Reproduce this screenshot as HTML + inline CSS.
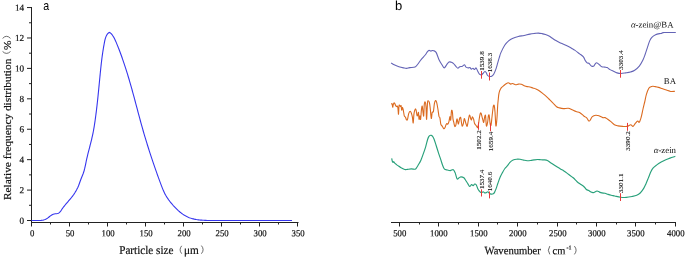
<!DOCTYPE html>
<html><head><meta charset="utf-8"><style>
html,body{margin:0;padding:0;background:#fff;}
svg{display:block;will-change:transform;}
text{font-family:"Liberation Serif",serif;fill:#111;}
.tk{font-size:9.2px;stroke:#111;stroke-width:0.2px;}
.lab{font-size:11px;stroke:#111;stroke-width:0.2px;}
.pk{font-size:7.1px;fill:#1a1a1a;stroke:#1a1a1a;stroke-width:0.12px;}
.cl{font-size:8.8px;}
.pl{font-family:"Liberation Sans",sans-serif;font-size:13px;fill:#000;}
</style></head><body>
<svg width="685" height="258" viewBox="0 0 685 258">
<line x1="31.5" y1="7" x2="31.5" y2="222.5" stroke="#222" stroke-width="1"/>
<line x1="31" y1="222.5" x2="298.5" y2="222.5" stroke="#222" stroke-width="1"/>
<line x1="27" y1="220.50" x2="31.5" y2="220.50" stroke="#222" stroke-width="1"/>
<text x="24.1" y="223.65" transform="rotate(0.05 24.1 223.65)" class="tk" text-anchor="end">0</text>
<line x1="29" y1="205.29" x2="31.5" y2="205.29" stroke="#222" stroke-width="1"/>
<line x1="27" y1="190.08" x2="31.5" y2="190.08" stroke="#222" stroke-width="1"/>
<text x="24.1" y="193.23" transform="rotate(0.05 24.1 193.23)" class="tk" text-anchor="end">2</text>
<line x1="29" y1="174.87" x2="31.5" y2="174.87" stroke="#222" stroke-width="1"/>
<line x1="27" y1="159.66" x2="31.5" y2="159.66" stroke="#222" stroke-width="1"/>
<text x="24.1" y="162.81" transform="rotate(0.05 24.1 162.81)" class="tk" text-anchor="end">4</text>
<line x1="29" y1="144.45" x2="31.5" y2="144.45" stroke="#222" stroke-width="1"/>
<line x1="27" y1="129.24" x2="31.5" y2="129.24" stroke="#222" stroke-width="1"/>
<text x="24.1" y="132.39" transform="rotate(0.05 24.1 132.39)" class="tk" text-anchor="end">6</text>
<line x1="29" y1="114.03" x2="31.5" y2="114.03" stroke="#222" stroke-width="1"/>
<line x1="27" y1="98.82" x2="31.5" y2="98.82" stroke="#222" stroke-width="1"/>
<text x="24.1" y="101.97" transform="rotate(0.05 24.1 101.97)" class="tk" text-anchor="end">8</text>
<line x1="29" y1="83.61" x2="31.5" y2="83.61" stroke="#222" stroke-width="1"/>
<line x1="27" y1="68.40" x2="31.5" y2="68.40" stroke="#222" stroke-width="1"/>
<text x="24.1" y="71.55" transform="rotate(0.05 24.1 71.55)" class="tk" text-anchor="end">10</text>
<line x1="29" y1="53.19" x2="31.5" y2="53.19" stroke="#222" stroke-width="1"/>
<line x1="27" y1="37.98" x2="31.5" y2="37.98" stroke="#222" stroke-width="1"/>
<text x="24.1" y="41.13" transform="rotate(0.05 24.1 41.13)" class="tk" text-anchor="end">12</text>
<line x1="29" y1="22.77" x2="31.5" y2="22.77" stroke="#222" stroke-width="1"/>
<line x1="27" y1="7.56" x2="31.5" y2="7.56" stroke="#222" stroke-width="1"/>
<text x="24.1" y="10.71" transform="rotate(0.05 24.1 10.71)" class="tk" text-anchor="end">14</text>
<line x1="31.50" y1="222.5" x2="31.50" y2="226.5" stroke="#222" stroke-width="1"/>
<text transform="translate(32.10,236.3) scale(0.95,1) rotate(0.05)" class="tk" text-anchor="middle">0</text>
<line x1="50.50" y1="222.5" x2="50.50" y2="224.5" stroke="#222" stroke-width="1"/>
<line x1="69.50" y1="222.5" x2="69.50" y2="226.5" stroke="#222" stroke-width="1"/>
<text transform="translate(70.10,236.3) scale(0.95,1) rotate(0.05)" class="tk" text-anchor="middle">50</text>
<line x1="88.50" y1="222.5" x2="88.50" y2="224.5" stroke="#222" stroke-width="1"/>
<line x1="107.50" y1="222.5" x2="107.50" y2="226.5" stroke="#222" stroke-width="1"/>
<text transform="translate(108.10,236.3) scale(0.95,1) rotate(0.05)" class="tk" text-anchor="middle">100</text>
<line x1="126.50" y1="222.5" x2="126.50" y2="224.5" stroke="#222" stroke-width="1"/>
<line x1="145.50" y1="222.5" x2="145.50" y2="226.5" stroke="#222" stroke-width="1"/>
<text transform="translate(146.10,236.3) scale(0.95,1) rotate(0.05)" class="tk" text-anchor="middle">150</text>
<line x1="164.50" y1="222.5" x2="164.50" y2="224.5" stroke="#222" stroke-width="1"/>
<line x1="183.50" y1="222.5" x2="183.50" y2="226.5" stroke="#222" stroke-width="1"/>
<text transform="translate(184.10,236.3) scale(0.95,1) rotate(0.05)" class="tk" text-anchor="middle">200</text>
<line x1="202.50" y1="222.5" x2="202.50" y2="224.5" stroke="#222" stroke-width="1"/>
<line x1="221.50" y1="222.5" x2="221.50" y2="226.5" stroke="#222" stroke-width="1"/>
<text transform="translate(222.10,236.3) scale(0.95,1) rotate(0.05)" class="tk" text-anchor="middle">250</text>
<line x1="240.50" y1="222.5" x2="240.50" y2="224.5" stroke="#222" stroke-width="1"/>
<line x1="259.50" y1="222.5" x2="259.50" y2="226.5" stroke="#222" stroke-width="1"/>
<text transform="translate(260.10,236.3) scale(0.95,1) rotate(0.05)" class="tk" text-anchor="middle">300</text>
<line x1="278.50" y1="222.5" x2="278.50" y2="224.5" stroke="#222" stroke-width="1"/>
<line x1="297.50" y1="222.5" x2="297.50" y2="226.5" stroke="#222" stroke-width="1"/>
<text transform="translate(298.10,236.3) scale(0.95,1) rotate(0.05)" class="tk" text-anchor="middle">350</text>
<path d="M31.52,220.51 L32.54,220.47 L33.59,220.46 L34.65,220.48 L35.72,220.50 L36.80,220.53 L37.88,220.54 L38.96,220.54 L40.04,220.50 L41.10,220.42 L42.15,220.29 L43.17,220.10 L44.18,219.84 L45.15,219.49 L46.09,219.05 L47.00,218.51 L47.87,217.89 L48.73,217.22 L49.59,216.53 L50.45,215.87 L51.33,215.26 L52.24,214.72 L53.20,214.31 L54.21,214.02 L55.26,213.82 L56.35,213.68 L57.44,213.51 L58.45,213.20 L59.31,212.68 L60.04,211.96 L60.68,211.12 L61.29,210.21 L61.89,209.29 L62.51,208.40 L63.15,207.52 L63.80,206.67 L64.46,205.83 L65.13,205.00 L65.81,204.18 L66.49,203.37 L67.18,202.57 L67.87,201.77 L68.56,200.97 L69.25,200.17 L69.94,199.37 L70.61,198.56 L71.28,197.74 L71.94,196.92 L72.58,196.07 L73.21,195.22 L73.83,194.35 L74.42,193.46 L75.00,192.57 L75.56,191.66 L76.10,190.73 L76.62,189.80 L77.11,188.85 L77.58,187.90 L78.02,186.93 L78.44,185.96 L78.83,184.97 L79.20,183.98 L79.55,182.98 L79.91,181.98 L80.26,180.99 L80.63,179.99 L81.01,178.99 L81.40,178.01 L81.81,177.02 L82.22,176.03 L82.62,175.04 L83.01,174.05 L83.37,173.05 L83.71,172.05 L84.02,171.04 L84.30,170.02 L84.57,168.99 L84.81,167.96 L85.05,166.93 L85.27,165.90 L85.49,164.86 L85.70,163.82 L85.91,162.78 L86.12,161.74 L86.34,160.70 L86.56,159.66 L86.79,158.62 L87.03,157.58 L87.28,156.55 L87.52,155.52 L87.78,154.48 L88.03,153.45 L88.29,152.42 L88.56,151.39 L88.82,150.36 L89.09,149.33 L89.35,148.30 L89.62,147.27 L89.89,146.24 L90.15,145.21 L90.42,144.18 L90.68,143.15 L90.94,142.12 L91.20,141.08 L91.45,140.05 L91.70,139.02 L91.94,137.99 L92.18,136.95 L92.41,135.92 L92.63,134.88 L92.85,133.84 L93.06,132.81 L93.26,131.77 L93.46,130.73 L93.65,129.68 L93.83,128.64 L94.01,127.60 L94.18,126.55 L94.35,125.51 L94.52,124.46 L94.68,123.41 L94.83,122.36 L94.99,121.31 L95.14,120.26 L95.28,119.21 L95.43,118.16 L95.57,117.11 L95.71,116.05 L95.85,115.00 L95.99,113.94 L96.12,112.89 L96.26,111.83 L96.39,110.77 L96.51,109.72 L96.64,108.66 L96.76,107.60 L96.89,106.54 L97.01,105.48 L97.13,104.42 L97.25,103.36 L97.36,102.31 L97.48,101.25 L97.59,100.19 L97.71,99.13 L97.82,98.07 L97.93,97.01 L98.04,95.95 L98.14,94.89 L98.25,93.83 L98.36,92.77 L98.46,91.71 L98.57,90.65 L98.67,89.59 L98.78,88.53 L98.88,87.47 L98.98,86.42 L99.09,85.36 L99.19,84.30 L99.29,83.25 L99.39,82.19 L99.49,81.14 L99.60,80.08 L99.70,79.03 L99.80,77.98 L99.90,76.93 L100.00,75.88 L100.11,74.83 L100.21,73.78 L100.31,72.73 L100.42,71.68 L100.52,70.63 L100.63,69.59 L100.74,68.54 L100.85,67.49 L100.96,66.44 L101.08,65.40 L101.19,64.35 L101.31,63.30 L101.43,62.25 L101.56,61.20 L101.69,60.15 L101.82,59.10 L101.95,58.05 L102.09,57.00 L102.23,55.94 L102.38,54.88 L102.53,53.83 L102.68,52.77 L102.84,51.71 L103.01,50.64 L103.18,49.58 L103.35,48.51 L103.53,47.45 L103.71,46.37 L103.90,45.30 L104.10,44.23 L104.30,43.15 L104.51,42.07 L104.73,40.98 L104.97,39.91 L105.23,38.86 L105.54,37.83 L105.89,36.84 L106.30,35.89 L106.78,35.00 L107.34,34.17 L107.99,33.41 L108.73,32.74 L109.54,32.43 L110.35,32.84 L111.12,33.61 L111.83,34.43 L112.49,35.29 L113.09,36.18 L113.65,37.09 L114.18,38.02 L114.67,38.97 L115.13,39.93 L115.57,40.90 L115.99,41.88 L116.41,42.87 L116.81,43.86 L117.21,44.85 L117.61,45.84 L118.01,46.83 L118.40,47.83 L118.79,48.82 L119.17,49.81 L119.55,50.81 L119.93,51.81 L120.30,52.80 L120.67,53.80 L121.03,54.80 L121.40,55.80 L121.76,56.80 L122.11,57.80 L122.47,58.81 L122.82,59.81 L123.16,60.81 L123.51,61.82 L123.85,62.82 L124.19,63.83 L124.52,64.84 L124.85,65.85 L125.18,66.85 L125.51,67.86 L125.84,68.87 L126.16,69.89 L126.48,70.90 L126.80,71.91 L127.11,72.92 L127.43,73.94 L127.74,74.95 L128.04,75.97 L128.35,76.98 L128.66,78.00 L128.96,79.01 L129.26,80.03 L129.56,81.05 L129.85,82.07 L130.15,83.09 L130.44,84.11 L130.73,85.13 L131.02,86.15 L131.31,87.17 L131.60,88.19 L131.89,89.21 L132.17,90.23 L132.45,91.26 L132.73,92.28 L133.02,93.30 L133.29,94.33 L133.57,95.35 L133.85,96.38 L134.13,97.40 L134.40,98.43 L134.68,99.46 L134.96,100.48 L135.23,101.51 L135.50,102.53 L135.78,103.56 L136.05,104.59 L136.32,105.62 L136.60,106.64 L136.87,107.67 L137.14,108.70 L137.42,109.72 L137.69,110.75 L137.96,111.78 L138.24,112.80 L138.51,113.83 L138.79,114.86 L139.06,115.88 L139.34,116.91 L139.61,117.94 L139.89,118.96 L140.17,119.99 L140.45,121.01 L140.73,122.04 L141.01,123.06 L141.29,124.09 L141.58,125.11 L141.86,126.14 L142.15,127.16 L142.44,128.18 L142.73,129.20 L143.02,130.23 L143.31,131.25 L143.61,132.27 L143.90,133.29 L144.20,134.31 L144.50,135.33 L144.80,136.35 L145.11,137.36 L145.41,138.38 L145.72,139.40 L146.02,140.41 L146.33,141.43 L146.65,142.45 L146.96,143.46 L147.27,144.48 L147.59,145.49 L147.91,146.50 L148.22,147.52 L148.54,148.53 L148.87,149.54 L149.19,150.55 L149.52,151.56 L149.84,152.57 L150.17,153.58 L150.50,154.59 L150.83,155.60 L151.16,156.61 L151.49,157.62 L151.83,158.63 L152.17,159.63 L152.50,160.64 L152.84,161.65 L153.18,162.65 L153.52,163.66 L153.87,164.66 L154.21,165.67 L154.56,166.67 L154.90,167.67 L155.25,168.68 L155.60,169.68 L155.95,170.68 L156.31,171.68 L156.66,172.68 L157.01,173.69 L157.37,174.69 L157.73,175.69 L158.08,176.68 L158.45,177.68 L158.81,178.68 L159.17,179.68 L159.54,180.68 L159.91,181.67 L160.28,182.67 L160.65,183.67 L161.03,184.66 L161.41,185.66 L161.79,186.65 L162.17,187.64 L162.57,188.63 L162.97,189.61 L163.39,190.59 L163.82,191.56 L164.27,192.52 L164.74,193.47 L165.23,194.41 L165.74,195.34 L166.28,196.25 L166.83,197.15 L167.41,198.04 L168.01,198.92 L168.62,199.79 L169.25,200.64 L169.90,201.49 L170.56,202.32 L171.24,203.15 L171.93,203.96 L172.63,204.76 L173.34,205.56 L174.07,206.34 L174.80,207.11 L175.54,207.88 L176.28,208.63 L177.04,209.38 L177.81,210.11 L178.59,210.83 L179.38,211.52 L180.19,212.21 L181.02,212.87 L181.86,213.51 L182.73,214.13 L183.61,214.72 L184.51,215.29 L185.42,215.83 L186.35,216.34 L187.30,216.81 L188.27,217.25 L189.25,217.65 L190.25,218.01 L191.26,218.34 L192.28,218.64 L193.31,218.90 L194.35,219.14 L195.40,219.35 L196.45,219.54 L197.50,219.70 L198.56,219.84 L199.61,219.97 L200.67,220.08 L201.73,220.17 L202.78,220.24 L203.84,220.31 L204.90,220.36 L205.96,220.40 L207.02,220.43 L208.08,220.46 L209.15,220.48 L210.21,220.49 L211.27,220.50 L212.33,220.51 L213.39,220.51 L214.45,220.52 L215.52,220.52 L216.58,220.53 L217.64,220.53 L218.70,220.53 L219.77,220.53 L220.83,220.53 L221.89,220.53 L222.95,220.53 L224.02,220.53 L225.08,220.53 L226.14,220.52 L227.20,220.52 L228.26,220.52 L229.33,220.52 L230.39,220.51 L231.45,220.51 L232.51,220.51 L233.58,220.50 L234.64,220.50 L235.70,220.50 L236.76,220.50 L237.83,220.49 L238.89,220.49 L239.95,220.49 L241.01,220.49 L242.08,220.49 L243.14,220.49 L244.20,220.49 L245.26,220.49 L246.33,220.49 L247.39,220.49 L248.45,220.49 L249.51,220.49 L250.57,220.49 L251.64,220.49 L252.70,220.49 L253.76,220.49 L254.82,220.49 L255.89,220.49 L256.95,220.49 L258.01,220.49 L259.07,220.49 L260.13,220.49 L261.20,220.50 L262.26,220.50 L263.32,220.50 L264.38,220.50 L265.44,220.50 L266.51,220.50 L267.57,220.50 L268.63,220.50 L269.69,220.50 L270.75,220.51 L271.82,220.51 L272.88,220.51 L273.94,220.51 L275.00,220.51 L276.07,220.51 L277.13,220.51 L278.19,220.51 L279.25,220.51 L280.31,220.51 L281.38,220.51 L282.44,220.51 L283.50,220.51 L284.56,220.51 L285.63,220.51 L286.69,220.51 L287.75,220.50 L288.81,220.50 L289.88,220.50 L290.94,220.50 L292.00,220.50" fill="none" stroke="#3535ee" stroke-width="1.1"/>
<text transform="translate(119.18,253.9) scale(0.94,1) rotate(0.05)" class="lab" style="font-size:11.9px">Particle size</text>
<path d="M181.7,245.8 Q178.50,249.75 181.7,253.7" fill="none" stroke="#3a3a3a" stroke-width="0.75"/>
<text transform="translate(183.9,253.9) scale(0.94,1) rotate(0.05)" class="lab" style="font-size:12px">μm</text>
<path d="M201.4,245.6 Q204.80,249.65 201.4,253.7" fill="none" stroke="#3a3a3a" stroke-width="0.75"/>
<text transform="translate(10.9,200.0) rotate(-90)" class="lab" style="font-size:11.37px">Relative frequency distribution</text>
<path d="M2.6,51.5 Q6.55,55.30 10.5,51.5" fill="none" stroke="#3a3a3a" stroke-width="0.75"/>
<text transform="translate(10.75,50.0) rotate(-90)" class="lab" style="font-size:11.37px">%</text>
<path d="M2.6,38.4 Q6.55,34.20 10.5,38.4" fill="none" stroke="#3a3a3a" stroke-width="0.75"/>
<text transform="translate(43.35,10.1) scale(0.82,1)" class="pl">a</text>
<line x1="391" y1="222.5" x2="676" y2="222.5" stroke="#222" stroke-width="1"/>
<line x1="399.50" y1="222.5" x2="399.50" y2="226.5" stroke="#222" stroke-width="1"/>
<text transform="translate(399.80,236.3) scale(0.95,1) rotate(0.05)" class="tk" text-anchor="middle">500</text>
<line x1="419.50" y1="222.5" x2="419.50" y2="224.5" stroke="#222" stroke-width="1"/>
<line x1="438.50" y1="222.5" x2="438.50" y2="226.5" stroke="#222" stroke-width="1"/>
<text transform="translate(438.80,236.3) scale(0.95,1) rotate(0.05)" class="tk" text-anchor="middle">1000</text>
<line x1="458.50" y1="222.5" x2="458.50" y2="224.5" stroke="#222" stroke-width="1"/>
<line x1="478.50" y1="222.5" x2="478.50" y2="226.5" stroke="#222" stroke-width="1"/>
<text transform="translate(478.80,236.3) scale(0.95,1) rotate(0.05)" class="tk" text-anchor="middle">1500</text>
<line x1="497.50" y1="222.5" x2="497.50" y2="224.5" stroke="#222" stroke-width="1"/>
<line x1="517.50" y1="222.5" x2="517.50" y2="226.5" stroke="#222" stroke-width="1"/>
<text transform="translate(517.80,236.3) scale(0.95,1) rotate(0.05)" class="tk" text-anchor="middle">2000</text>
<line x1="537.50" y1="222.5" x2="537.50" y2="224.5" stroke="#222" stroke-width="1"/>
<line x1="557.50" y1="222.5" x2="557.50" y2="226.5" stroke="#222" stroke-width="1"/>
<text transform="translate(557.80,236.3) scale(0.95,1) rotate(0.05)" class="tk" text-anchor="middle">2500</text>
<line x1="576.50" y1="222.5" x2="576.50" y2="224.5" stroke="#222" stroke-width="1"/>
<line x1="596.50" y1="222.5" x2="596.50" y2="226.5" stroke="#222" stroke-width="1"/>
<text transform="translate(596.80,236.3) scale(0.95,1) rotate(0.05)" class="tk" text-anchor="middle">3000</text>
<line x1="616.50" y1="222.5" x2="616.50" y2="224.5" stroke="#222" stroke-width="1"/>
<line x1="635.50" y1="222.5" x2="635.50" y2="226.5" stroke="#222" stroke-width="1"/>
<text transform="translate(635.80,236.3) scale(0.95,1) rotate(0.05)" class="tk" text-anchor="middle">3500</text>
<line x1="655.50" y1="222.5" x2="655.50" y2="224.5" stroke="#222" stroke-width="1"/>
<line x1="675.50" y1="222.5" x2="675.50" y2="226.5" stroke="#222" stroke-width="1"/>
<text transform="translate(675.80,236.3) scale(0.95,1) rotate(0.05)" class="tk" text-anchor="middle">4000</text>
<path d="M391.10,62.90 C391.62,63.22 392.90,64.17 394.20,64.80 C395.50,65.43 397.35,66.18 398.90,66.70 C400.45,67.22 402.22,67.62 403.50,67.90 C404.78,68.18 405.57,68.45 406.60,68.40 C407.63,68.35 408.28,67.82 409.70,67.60 C411.12,67.38 413.80,67.62 415.10,67.10 C416.40,66.58 416.47,65.78 417.50,64.50 C418.53,63.22 420.02,60.98 421.30,59.40 C422.58,57.82 424.17,56.30 425.20,55.00 C426.23,53.70 426.85,52.37 427.50,51.60 C428.15,50.83 428.53,50.48 429.10,50.40 C429.67,50.32 430.38,51.07 430.90,51.10 C431.42,51.13 431.73,50.67 432.20,50.60 C432.67,50.53 433.05,50.40 433.70,50.70 C434.35,51.00 435.23,50.95 436.10,52.40 C436.97,53.85 437.92,57.33 438.90,59.40 C439.88,61.47 441.10,63.38 442.00,64.80 C442.90,66.22 443.53,67.90 444.30,67.90 C445.07,67.90 445.82,65.78 446.60,64.80 C447.38,63.82 448.22,62.43 449.00,62.00 C449.78,61.57 450.53,61.93 451.30,62.20 C452.07,62.47 452.83,62.90 453.60,63.60 C454.37,64.30 455.18,65.63 455.90,66.40 C456.62,67.17 457.25,68.15 457.90,68.20 C458.55,68.25 459.10,67.00 459.80,66.70 C460.50,66.40 461.32,66.72 462.10,66.40 C462.88,66.08 463.85,64.68 464.50,64.80 C465.15,64.92 465.37,66.58 466.00,67.10 C466.63,67.62 467.65,67.82 468.30,67.90 C468.95,67.98 469.38,67.40 469.90,67.60 C470.42,67.80 470.88,69.00 471.40,69.10 C471.92,69.20 472.48,68.13 473.00,68.20 C473.52,68.27 473.98,69.55 474.50,69.50 C475.02,69.45 475.58,67.65 476.10,67.90 C476.62,68.15 477.08,70.02 477.60,71.00 C478.12,71.98 478.55,73.15 479.20,73.80 C479.85,74.45 480.88,74.95 481.50,74.90 C482.12,74.85 482.33,74.07 482.90,73.50 C483.47,72.93 484.33,71.62 484.90,71.50 C485.47,71.38 485.85,72.13 486.30,72.80 C486.75,73.47 487.03,74.88 487.60,75.50 C488.17,76.12 489.02,76.38 489.70,76.50 C490.38,76.62 491.03,76.58 491.70,76.20 C492.37,75.82 493.02,75.33 493.70,74.20 C494.38,73.07 495.12,71.33 495.80,69.40 C496.48,67.47 497.23,64.52 497.80,62.60 C498.37,60.68 498.70,59.52 499.20,57.90 C499.70,56.28 499.88,55.02 500.80,52.90 C501.72,50.78 503.40,47.20 504.70,45.20 C506.00,43.20 507.32,42.03 508.60,40.90 C509.88,39.77 510.78,39.13 512.40,38.40 C514.02,37.67 516.35,36.98 518.30,36.50 C520.25,36.02 522.17,35.90 524.10,35.50 C526.03,35.10 528.08,34.45 529.90,34.10 C531.72,33.75 533.57,33.57 535.00,33.40 C536.43,33.23 537.33,33.07 538.50,33.10 C539.67,33.13 540.83,33.37 542.00,33.60 C543.17,33.83 544.33,34.10 545.50,34.50 C546.67,34.90 547.85,35.37 549.00,36.00 C550.15,36.63 551.25,37.53 552.40,38.30 C553.55,39.07 554.73,39.92 555.90,40.60 C557.07,41.28 558.23,41.83 559.40,42.40 C560.57,42.97 561.73,43.47 562.90,44.00 C564.07,44.53 565.23,45.05 566.40,45.60 C567.57,46.15 568.88,46.77 569.90,47.30 C570.92,47.83 571.70,48.33 572.50,48.80 C573.30,49.27 573.57,49.30 574.70,50.10 C575.83,50.90 577.88,52.50 579.30,53.60 C580.72,54.70 582.17,55.48 583.20,56.70 C584.23,57.92 584.85,59.87 585.50,60.90 C586.15,61.93 586.53,62.50 587.10,62.90 C587.67,63.30 588.27,62.85 588.90,63.30 C589.53,63.75 590.30,65.08 590.90,65.60 C591.50,66.12 591.98,66.35 592.50,66.40 C593.02,66.45 593.48,66.42 594.00,65.90 C594.52,65.38 595.08,63.80 595.60,63.30 C596.12,62.80 596.45,62.65 597.10,62.90 C597.75,63.15 598.72,64.17 599.50,64.80 C600.28,65.43 600.90,66.32 601.80,66.70 C602.70,67.08 604.00,66.95 604.90,67.10 C605.80,67.25 606.35,67.18 607.20,67.60 C608.05,68.02 608.95,68.98 610.00,69.60 C611.05,70.22 612.33,70.75 613.50,71.30 C614.67,71.85 615.77,72.53 617.00,72.90 C618.23,73.27 619.45,73.50 620.90,73.50 C622.35,73.50 624.10,73.15 625.70,72.90 C627.30,72.65 629.00,72.43 630.50,72.00 C632.00,71.57 633.23,71.27 634.70,70.30 C636.17,69.33 637.95,67.87 639.30,66.20 C640.65,64.53 641.83,62.25 642.80,60.30 C643.77,58.35 644.33,56.62 645.10,54.50 C645.87,52.38 646.62,49.92 647.40,47.60 C648.18,45.28 649.02,42.35 649.80,40.60 C650.58,38.85 651.13,38.07 652.10,37.10 C653.07,36.13 654.37,35.38 655.60,34.80 C656.83,34.22 658.52,33.83 659.50,33.60 C660.48,33.37 660.92,33.57 661.50,33.40 C662.08,33.23 662.33,32.75 663.00,32.60 C663.67,32.45 664.22,32.52 665.50,32.50 C666.78,32.48 668.98,32.50 670.70,32.50 C672.42,32.50 674.95,32.50 675.80,32.50" fill="none" stroke="#6464b6" stroke-width="1.1"/>
<path d="M391.30,104.30 C391.43,104.20 391.87,103.22 392.10,103.70 C392.33,104.18 392.52,107.00 392.70,107.20 C392.88,107.40 392.98,105.62 393.20,104.90 C393.42,104.18 393.75,103.15 394.00,102.90 C394.25,102.65 394.43,102.97 394.70,103.40 C394.97,103.83 395.32,104.97 395.60,105.50 C395.88,106.03 396.15,106.52 396.40,106.60 C396.65,106.68 396.85,105.80 397.10,106.00 C397.35,106.20 397.67,106.43 397.90,107.80 C398.13,109.17 398.32,114.50 398.50,114.20 C398.68,113.90 398.82,107.50 399.00,106.00 C399.18,104.50 399.33,105.10 399.60,105.20 C399.87,105.30 400.35,106.52 400.60,106.60 C400.85,106.68 400.92,105.12 401.10,105.70 C401.28,106.28 401.47,109.85 401.70,110.10 C401.93,110.35 402.23,107.20 402.50,107.20 C402.77,107.20 403.00,108.65 403.30,110.10 C403.60,111.55 403.95,114.73 404.30,115.90 C404.65,117.07 405.02,116.42 405.40,117.10 C405.78,117.78 406.25,119.62 406.60,120.00 C406.95,120.38 407.15,120.47 407.50,119.40 C407.85,118.33 408.25,114.95 408.70,113.60 C409.15,112.25 409.77,111.40 410.20,111.30 C410.63,111.20 410.93,112.03 411.30,113.00 C411.67,113.97 412.08,115.45 412.40,117.10 C412.72,118.75 412.93,123.48 413.20,122.90 C413.47,122.32 413.67,115.88 414.00,113.60 C414.33,111.32 414.85,109.78 415.20,109.20 C415.55,108.62 415.78,108.98 416.10,110.10 C416.42,111.22 416.80,115.22 417.10,115.90 C417.40,116.58 417.67,114.78 417.90,114.20 C418.13,113.62 418.32,111.53 418.50,112.40 C418.68,113.27 418.77,118.82 419.00,119.40 C419.23,119.98 419.63,115.90 419.90,115.90 C420.17,115.90 420.35,120.37 420.60,119.40 C420.85,118.43 421.13,112.33 421.40,110.10 C421.67,107.87 421.95,105.80 422.20,106.00 C422.45,106.20 422.65,109.65 422.90,111.30 C423.15,112.95 423.47,117.07 423.70,115.90 C423.93,114.73 424.05,106.62 424.30,104.30 C424.55,101.98 424.92,101.62 425.20,102.00 C425.48,102.38 425.77,103.70 426.00,106.60 C426.23,109.50 426.35,119.98 426.60,119.40 C426.85,118.82 427.22,106.20 427.50,103.10 C427.78,100.00 427.97,100.82 428.30,100.80 C428.63,100.78 429.17,101.63 429.50,103.00 C429.83,104.37 430.00,106.42 430.30,109.00 C430.60,111.58 430.98,117.93 431.30,118.50 C431.62,119.07 431.85,113.57 432.20,112.40 C432.55,111.23 433.03,112.95 433.40,111.50 C433.77,110.05 434.03,105.52 434.40,103.70 C434.77,101.88 435.22,100.78 435.60,100.60 C435.98,100.42 436.32,101.20 436.70,102.60 C437.08,104.00 437.52,106.68 437.90,109.00 C438.28,111.32 438.67,115.03 439.00,116.50 C439.33,117.97 439.60,116.52 439.90,117.80 C440.20,119.08 440.45,122.85 440.80,124.20 C441.15,125.55 441.62,125.32 442.00,125.90 C442.38,126.48 442.75,127.22 443.10,127.70 C443.45,128.18 443.75,128.90 444.10,128.80 C444.45,128.70 444.88,127.77 445.20,127.10 C445.52,126.43 445.72,125.38 446.00,124.80 C446.28,124.22 446.60,123.70 446.90,123.60 C447.20,123.50 447.45,124.58 447.80,124.20 C448.15,123.82 448.65,122.57 449.00,121.30 C449.35,120.03 449.62,116.80 449.90,116.60 C450.18,116.40 450.43,121.07 450.70,120.10 C450.97,119.13 451.22,112.15 451.50,110.80 C451.78,109.45 452.15,110.63 452.40,112.00 C452.65,113.37 452.77,117.27 453.00,119.00 C453.23,120.73 453.50,121.15 453.80,122.40 C454.10,123.65 454.45,126.10 454.80,126.50 C455.15,126.90 455.55,126.05 455.90,124.80 C456.25,123.55 456.60,119.55 456.90,119.00 C457.20,118.45 457.43,120.67 457.70,121.50 C457.97,122.33 458.20,124.42 458.50,124.00 C458.80,123.58 459.15,120.10 459.50,119.00 C459.85,117.90 460.28,116.88 460.60,117.40 C460.92,117.92 461.13,120.63 461.40,122.10 C461.67,123.57 461.87,126.00 462.20,126.20 C462.53,126.40 463.05,124.57 463.40,123.30 C463.75,122.03 464.00,119.00 464.30,118.60 C464.60,118.20 464.92,120.03 465.20,120.90 C465.48,121.77 465.67,122.92 466.00,123.80 C466.33,124.68 466.80,126.87 467.20,126.20 C467.60,125.53 468.02,121.65 468.40,119.80 C468.78,117.95 469.12,115.30 469.50,115.10 C469.88,114.90 470.37,117.82 470.70,118.60 C471.03,119.38 471.22,120.08 471.50,119.80 C471.78,119.52 472.05,117.00 472.40,116.90 C472.75,116.80 473.25,118.13 473.60,119.20 C473.95,120.27 474.15,122.33 474.50,123.30 C474.85,124.27 475.30,124.43 475.70,125.00 C476.10,125.57 476.57,126.28 476.90,126.70 C477.23,127.12 477.43,127.95 477.70,127.50 C477.97,127.05 478.23,125.50 478.50,124.00 C478.77,122.50 479.02,120.22 479.30,118.50 C479.58,116.78 479.92,114.60 480.20,113.70 C480.48,112.80 480.70,112.62 481.00,113.10 C481.30,113.58 481.68,115.43 482.00,116.60 C482.32,117.77 482.62,119.13 482.90,120.10 C483.18,121.07 483.43,122.78 483.70,122.40 C483.97,122.02 484.20,118.95 484.50,117.80 C484.80,116.65 485.18,114.15 485.50,115.50 C485.82,116.85 486.05,124.75 486.40,125.90 C486.75,127.05 487.27,124.05 487.60,122.40 C487.93,120.75 488.13,117.15 488.40,116.00 C488.67,114.85 488.92,114.23 489.20,115.50 C489.48,116.77 489.80,121.97 490.10,123.60 C490.40,125.23 490.70,126.27 491.00,125.30 C491.30,124.33 491.62,120.22 491.90,117.80 C492.18,115.38 492.45,112.77 492.70,110.80 C492.95,108.83 493.15,106.88 493.40,106.00 C493.65,105.12 493.93,104.50 494.20,105.50 C494.47,106.50 494.72,108.60 495.00,112.00 C495.28,115.40 495.58,124.73 495.90,125.90 C496.22,127.07 496.60,122.43 496.90,119.00 C497.20,115.57 497.47,108.63 497.70,105.30 C497.93,101.97 498.12,100.83 498.30,99.00 C498.48,97.17 498.57,95.67 498.80,94.30 C499.03,92.93 499.30,91.87 499.70,90.80 C500.10,89.73 500.67,88.63 501.20,87.90 C501.73,87.17 502.30,86.93 502.90,86.40 C503.50,85.87 503.93,85.30 504.80,84.70 C505.67,84.10 507.12,82.90 508.10,82.80 C509.08,82.70 509.95,83.98 510.70,84.10 C511.45,84.22 511.80,83.40 512.60,83.50 C513.40,83.60 514.53,84.60 515.50,84.70 C516.47,84.80 517.43,84.17 518.40,84.10 C519.37,84.03 520.33,84.03 521.30,84.30 C522.27,84.57 523.23,85.32 524.20,85.70 C525.17,86.08 526.13,86.38 527.10,86.60 C528.07,86.82 529.03,86.77 530.00,87.00 C530.97,87.23 531.92,87.67 532.90,88.00 C533.88,88.33 534.92,88.58 535.90,89.00 C536.88,89.42 537.68,89.77 538.80,90.50 C539.92,91.23 541.32,92.37 542.60,93.40 C543.88,94.43 545.45,95.77 546.50,96.70 C547.55,97.63 547.85,97.98 548.90,99.00 C549.95,100.02 551.52,101.52 552.80,102.80 C554.08,104.08 555.48,105.85 556.60,106.70 C557.72,107.55 558.37,107.58 559.50,107.90 C560.63,108.22 561.93,108.53 563.40,108.60 C564.87,108.67 566.85,108.10 568.30,108.30 C569.75,108.50 570.82,109.25 572.10,109.80 C573.38,110.35 574.70,111.12 576.00,111.60 C577.30,112.08 578.60,111.97 579.90,112.70 C581.20,113.43 582.67,115.13 583.80,116.00 C584.93,116.87 585.90,117.08 586.70,117.90 C587.50,118.72 588.05,120.47 588.60,120.90 C589.15,121.33 589.38,121.22 590.00,120.50 C590.62,119.78 591.33,117.48 592.30,116.60 C593.27,115.72 594.63,115.32 595.80,115.20 C596.97,115.08 598.13,115.50 599.30,115.90 C600.47,116.30 601.83,117.32 602.80,117.60 C603.77,117.88 604.33,117.37 605.10,117.60 C605.87,117.83 606.43,118.32 607.40,119.00 C608.37,119.68 609.73,120.73 610.90,121.70 C612.07,122.67 613.23,124.10 614.40,124.80 C615.57,125.50 616.53,125.63 617.90,125.90 C619.27,126.17 621.05,126.32 622.60,126.40 C624.15,126.48 625.85,126.67 627.20,126.40 C628.55,126.13 629.73,124.80 630.70,124.80 C631.67,124.80 632.23,126.63 633.00,126.40 C633.77,126.17 634.52,124.30 635.30,123.40 C636.08,122.50 637.03,121.20 637.70,121.00 C638.37,120.80 638.72,122.85 639.30,122.20 C639.88,121.55 640.58,119.30 641.20,117.10 C641.82,114.90 642.42,111.52 643.00,109.00 C643.58,106.48 644.13,104.43 644.70,102.00 C645.27,99.57 645.73,96.63 646.40,94.40 C647.07,92.17 648.02,89.85 648.70,88.60 C649.38,87.35 649.82,87.28 650.50,86.90 C651.18,86.52 652.03,86.35 652.80,86.30 C653.57,86.25 654.13,86.42 655.10,86.60 C656.07,86.78 657.43,87.07 658.60,87.40 C659.77,87.73 660.93,88.20 662.10,88.60 C663.27,89.00 664.43,89.42 665.60,89.80 C666.77,90.18 668.13,90.62 669.10,90.90 C670.07,91.18 670.43,91.43 671.40,91.50 C672.37,91.57 674.32,91.33 674.90,91.30" fill="none" stroke="#db6a1f" stroke-width="1.1"/>
<path d="M391.70,158.30 C391.80,158.80 392.07,160.60 392.30,161.30 C392.53,162.00 392.85,162.43 393.10,162.50 C393.35,162.57 393.53,161.60 393.80,161.70 C394.07,161.80 394.25,162.62 394.70,163.10 C395.15,163.58 395.87,164.12 396.50,164.60 C397.13,165.08 397.82,165.53 398.50,166.00 C399.18,166.47 399.77,166.92 400.60,167.40 C401.43,167.88 402.68,168.53 403.50,168.90 C404.32,169.27 404.85,169.52 405.50,169.60 C406.15,169.68 406.43,169.52 407.40,169.40 C408.37,169.28 410.03,168.93 411.30,168.90 C412.57,168.87 414.17,169.32 415.00,169.20 C415.83,169.08 415.78,168.85 416.30,168.20 C416.82,167.55 417.33,166.63 418.10,165.30 C418.87,163.97 419.93,162.40 420.90,160.20 C421.87,158.00 423.08,154.42 423.90,152.10 C424.72,149.78 425.18,148.40 425.80,146.30 C426.42,144.20 427.10,141.12 427.60,139.50 C428.10,137.88 428.40,137.28 428.80,136.60 C429.20,135.92 429.58,135.60 430.00,135.40 C430.42,135.20 430.87,135.25 431.30,135.40 C431.73,135.55 432.15,135.70 432.60,136.30 C433.05,136.90 433.43,137.55 434.00,139.00 C434.57,140.45 435.22,142.57 436.00,145.00 C436.78,147.43 437.92,151.20 438.70,153.60 C439.48,156.00 440.05,157.47 440.70,159.40 C441.35,161.33 441.97,163.58 442.60,165.20 C443.23,166.82 443.70,168.30 444.50,169.10 C445.30,169.90 446.43,169.75 447.40,170.00 C448.37,170.25 449.32,170.65 450.30,170.60 C451.28,170.55 452.48,169.32 453.30,169.70 C454.12,170.08 454.57,171.38 455.20,172.90 C455.83,174.42 456.45,177.98 457.10,178.80 C457.75,179.62 458.45,178.13 459.10,177.80 C459.75,177.47 460.20,176.80 461.00,176.80 C461.80,176.80 463.08,177.15 463.90,177.80 C464.72,178.45 465.25,179.73 465.90,180.70 C466.55,181.67 467.17,182.63 467.80,183.60 C468.43,184.57 469.07,186.35 469.70,186.50 C470.33,186.65 471.03,184.65 471.60,184.50 C472.17,184.35 472.58,185.68 473.10,185.60 C473.62,185.52 474.18,184.13 474.70,184.00 C475.22,183.87 475.68,184.02 476.20,184.80 C476.72,185.58 477.28,187.67 477.80,188.70 C478.32,189.73 478.73,190.35 479.30,191.00 C479.87,191.65 480.55,192.47 481.20,192.60 C481.85,192.73 482.62,191.75 483.20,191.80 C483.78,191.85 484.18,192.77 484.70,192.90 C485.22,193.03 485.78,192.78 486.30,192.60 C486.82,192.42 487.28,191.68 487.80,191.80 C488.32,191.92 488.88,192.92 489.40,193.30 C489.92,193.68 490.25,194.02 490.90,194.10 C491.55,194.18 492.65,194.18 493.30,193.80 C493.95,193.42 494.28,192.78 494.80,191.80 C495.32,190.82 495.88,189.32 496.40,187.90 C496.92,186.48 497.27,185.10 497.90,183.30 C498.53,181.50 499.42,178.92 500.20,177.10 C500.98,175.28 501.82,173.83 502.60,172.40 C503.38,170.97 504.12,169.58 504.90,168.50 C505.68,167.42 506.42,166.95 507.30,165.90 C508.18,164.85 509.23,163.17 510.20,162.20 C511.17,161.23 512.03,160.60 513.10,160.10 C514.17,159.60 515.43,159.33 516.60,159.20 C517.77,159.07 518.93,159.15 520.10,159.30 C521.27,159.45 522.43,159.87 523.60,160.10 C524.77,160.33 525.93,160.63 527.10,160.70 C528.27,160.77 529.43,160.63 530.60,160.50 C531.77,160.37 532.93,160.07 534.10,159.90 C535.27,159.73 536.45,159.52 537.60,159.50 C538.75,159.48 539.85,159.73 541.00,159.80 C542.15,159.87 543.43,159.78 544.50,159.90 C545.57,160.02 546.43,160.08 547.40,160.50 C548.37,160.92 549.23,161.68 550.30,162.40 C551.37,163.12 552.63,164.02 553.80,164.80 C554.97,165.58 556.13,166.37 557.30,167.10 C558.47,167.83 559.70,168.57 560.80,169.20 C561.90,169.83 562.62,170.05 563.90,170.90 C565.18,171.75 566.95,173.15 568.50,174.30 C570.05,175.45 571.77,176.57 573.20,177.80 C574.63,179.03 575.82,180.58 577.10,181.70 C578.38,182.82 579.75,183.67 580.90,184.50 C582.05,185.33 583.08,185.87 584.00,186.70 C584.92,187.53 585.62,188.87 586.40,189.50 C587.18,190.13 587.93,190.07 588.70,190.50 C589.47,190.93 590.23,191.75 591.00,192.10 C591.77,192.45 592.52,192.70 593.30,192.60 C594.08,192.50 595.05,191.77 595.70,191.50 C596.35,191.23 596.57,190.90 597.20,191.00 C597.83,191.10 598.72,191.78 599.50,192.10 C600.28,192.42 600.98,192.70 601.90,192.90 C602.82,193.10 603.97,193.05 605.00,193.30 C606.03,193.55 607.07,194.07 608.10,194.40 C609.13,194.73 610.10,195.03 611.20,195.30 C612.30,195.57 613.15,195.68 614.70,196.00 C616.25,196.32 618.57,196.97 620.50,197.20 C622.43,197.43 624.37,197.52 626.30,197.40 C628.23,197.28 630.37,196.85 632.10,196.50 C633.83,196.15 635.35,195.88 636.70,195.30 C638.05,194.72 639.03,194.15 640.20,193.00 C641.37,191.85 642.73,189.95 643.70,188.40 C644.67,186.85 645.22,185.45 646.00,183.70 C646.78,181.95 647.62,179.83 648.40,177.90 C649.18,175.97 649.93,173.73 650.70,172.10 C651.47,170.47 652.03,169.27 653.00,168.10 C653.97,166.93 655.13,166.10 656.50,165.10 C657.87,164.10 659.65,162.98 661.20,162.10 C662.75,161.22 664.33,160.47 665.80,159.80 C667.27,159.13 668.42,158.68 670.00,158.10 C671.58,157.52 674.42,156.60 675.30,156.30" fill="none" stroke="#28a07a" stroke-width="1.15"/>
<line x1="481.50" y1="71.0" x2="481.50" y2="78.7" stroke="#e83a3a" stroke-width="1"/>
<text transform="translate(483.74,70.80) rotate(-90)" class="pk">1539.8</text>
<line x1="489.50" y1="72.5" x2="489.50" y2="80.5" stroke="#e83a3a" stroke-width="1"/>
<text transform="translate(491.51,72.30) rotate(-90)" class="pk">1638.3</text>
<line x1="620.50" y1="70.0" x2="620.50" y2="77.7" stroke="#e83a3a" stroke-width="1"/>
<text transform="translate(622.81,69.80) rotate(-90)" class="pk">3303.4</text>
<line x1="478.50" y1="122.4" x2="478.50" y2="129.8" stroke="#e83a3a" stroke-width="1"/>
<text transform="translate(480.77,149.73) rotate(-90)" class="pk">1502.2</text>
<line x1="490.50" y1="123.6" x2="490.50" y2="131.3" stroke="#e83a3a" stroke-width="1"/>
<text transform="translate(493.17,151.23) rotate(-90)" class="pk">1659.4</text>
<line x1="627.50" y1="122.9" x2="627.50" y2="130.8" stroke="#e83a3a" stroke-width="1"/>
<text transform="translate(629.66,150.73) rotate(-90)" class="pk">3390.2</text>
<line x1="481.50" y1="189.3" x2="481.50" y2="196.5" stroke="#e83a3a" stroke-width="1"/>
<text transform="translate(483.55,189.10) rotate(-90)" class="pk">1537.4</text>
<line x1="489.50" y1="191.5" x2="489.50" y2="198.4" stroke="#e83a3a" stroke-width="1"/>
<text transform="translate(491.69,191.30) rotate(-90)" class="pk">1640.6</text>
<line x1="620.50" y1="193.2" x2="620.50" y2="201.0" stroke="#e83a3a" stroke-width="1"/>
<text transform="translate(622.63,193.00) rotate(-90)" class="pk">3301.1</text>
<text x="631" y="27.6" transform="rotate(0.05 631 27.6)" class="cl"><tspan font-style="italic">α</tspan>-zein@BA</text>
<text x="663.8" y="84" transform="rotate(0.05 663.8 84)" class="cl">BA</text>
<text x="653.8" y="153" transform="rotate(0.05 653.8 153)" class="cl"><tspan font-style="italic">α</tspan>-zein</text>
<text transform="translate(484.5,254.3) scale(0.94,1) rotate(0.05)" class="lab" style="font-size:11.3px">Wavenumber</text>
<path d="M549.8,246.1 Q546.80,250.25 549.8,254.4" fill="none" stroke="#3a3a3a" stroke-width="0.75"/>
<text transform="translate(552.5,254.3) scale(0.94,1) rotate(0.05)" class="lab" style="font-size:11.1px">cm</text>
<text x="566.5" y="249.6" transform="rotate(0.05 566.5 249.6)" class="lab" style="font-size:6px">-1</text>
<path d="M574.4,246.1 Q577.80,250.25 574.4,254.4" fill="none" stroke="#3a3a3a" stroke-width="0.75"/>
<text x="395" y="9.9" transform="rotate(0.05 395 9.9)" class="pl">b</text>
</svg>
</body></html>
